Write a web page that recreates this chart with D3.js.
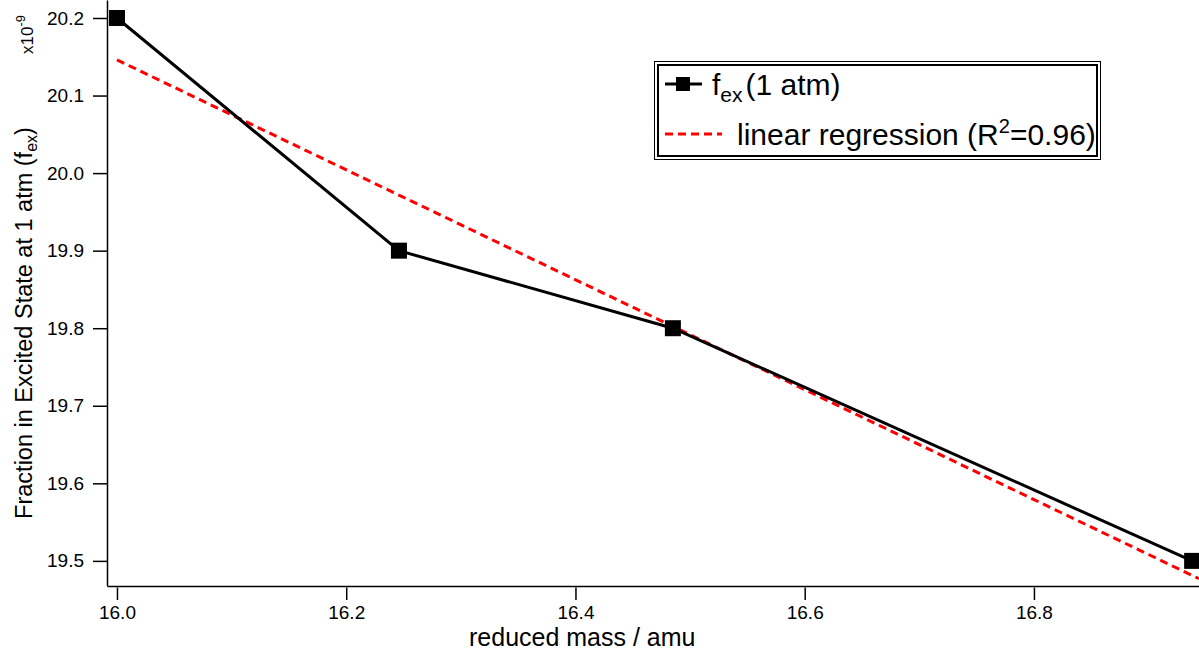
<!DOCTYPE html>
<html lang="en">
<head>
    <meta charset="UTF-8">
    <script src="https://d3js.org/d3.v7.min.js"></script>
    <style>
        body{ margin:0; background:white; }
        svg text{ font-family:"Liberation Sans", Arial, sans-serif; fill:black; }
        .tick text{ font-size:19px; }
    </style>
    <title>Fraction in Excited State</title>
</head>
<body>
    <svg width="1199" height="651"></svg>
    <script>

        // data
        const reducedMass = [16.0, 16.246, 16.485, 16.938];
        const fraction = [20.2, 19.9, 19.8, 19.5];
        const fitX = [16.0, 16.944];
        const fitY = [20.146, 19.477];
        const xTicks = [16.0, 16.2, 16.4, 16.6, 16.8];
        const yTicks = [19.5, 19.6, 19.7, 19.8, 19.9, 20.0, 20.1, 20.2];

        const width = 1199;
        const height = 651;
        const margin = { top:0, right:0, bottom:65, left:107 };

        const svg = d3.select("svg");

        const xScale = d3.scaleLinear()
            .domain([15.9913, 16.944])
            .range([margin.left, width - margin.right]);

        const yScale = d3.scaleLinear()
            .domain([19.468, 20.2232])
            .range([height - margin.bottom - 0.3, margin.top]);

        // y axis
        const yAxis = svg.append("g")
            .attr("transform", `translate(${margin.left},0)`)
            .call(d3.axisLeft(yScale).tickValues(yTicks).tickFormat(d3.format(".1f")).tickSize(14).tickPadding(9).tickSizeOuter(0));
        yAxis.select(".domain").attr("stroke-width", 1.5);
        yAxis.selectAll(".tick line").attr("stroke-width", 1.5);

        // x axis
        const xAxis = svg.append("g")
            .attr("transform", `translate(0,${height - margin.bottom})`)
            .call(d3.axisBottom(xScale).tickValues(xTicks).tickFormat(d3.format(".1f")).tickSize(14).tickPadding(6).tickSizeOuter(0));
        xAxis.select(".domain").attr("stroke-width", 1.5);
        xAxis.selectAll(".tick line").attr("stroke-width", 1.5).attr("y1", 1.5);

        // axis labels
        svg.append("text")
            .attr("x", 469).attr("y", 646)
            .style("font-size", "25px")
            .text("reduced mass / amu");

        const yl = svg.append("text")
            .attr("transform", "translate(32,323) rotate(-90)")
            .attr("text-anchor", "middle")
            .style("font-size", "23.5px");
        yl.append("tspan").text("Fraction in Excited State at 1 atm (f");
        yl.append("tspan").attr("dy", 5).style("font-size", "16px").text("ex");
        yl.append("tspan").attr("dy", -5).text(")");

        const mult = svg.append("text")
            .attr("transform", "translate(33,54) rotate(-90)")
            .style("font-size", "17px");
        mult.append("tspan").text("x10");
        mult.append("tspan").attr("dy", -8).style("font-size", "13px").text("-9");

        // regression line
        svg.append("line")
            .attr("x1", xScale(fitX[0])).attr("y1", yScale(fitY[0]))
            .attr("x2", xScale(fitX[1])).attr("y2", yScale(fitY[1]))
            .attr("stroke", "#ff0000")
            .attr("stroke-width", 3)
            .attr("stroke-dasharray", "8,5");

        // data line
        const pts = reducedMass.map((m, i) => [m, fraction[i]]);
        svg.append("path")
            .datum(pts)
            .attr("fill", "none")
            .attr("stroke", "black")
            .attr("stroke-width", 3)
            .attr("d", d3.line().x(d => xScale(d[0])).y(d => yScale(d[1])));

        svg.selectAll(".mk")
            .data(pts)
            .enter().append("rect")
            .attr("class", "mk")
            .attr("x", d => xScale(d[0]) - 8)
            .attr("y", d => yScale(d[1]) - 8)
            .attr("width", 16).attr("height", 16)
            .attr("fill", "black");

        // legend
        const lg = svg.append("g");
        lg.append("rect").attr("x", 654.5).attr("y", 61.5).attr("width", 446).attr("height", 98)
            .attr("fill", "white").attr("stroke", "black").attr("stroke-width", 1);
        lg.append("rect").attr("x", 658).attr("y", 65).attr("width", 439).attr("height", 91)
            .attr("fill", "none").attr("stroke", "black").attr("stroke-width", 2);

        lg.append("line").attr("x1", 665).attr("x2", 702).attr("y1", 84).attr("y2", 84)
            .attr("stroke", "black").attr("stroke-width", 3);
        lg.append("rect").attr("x", 676).attr("y", 77).attr("width", 14).attr("height", 14).attr("fill", "black");
        const t1 = lg.append("text").attr("x", 712).attr("y", 95).style("font-size", "30px");
        t1.append("tspan").text("f");
        t1.append("tspan").attr("dy", 7).style("font-size", "21px").text("ex");
        t1.append("tspan").attr("dy", -7).attr("dx", 3).text("(1 atm)");

        lg.append("line").attr("x1", 665).attr("x2", 722).attr("y1", 134).attr("y2", 134)
            .attr("stroke", "#ff0000").attr("stroke-width", 3).attr("stroke-dasharray", "8,5");
        const t2 = lg.append("text").attr("x", 737).attr("y", 145).style("font-size", "30px");
        t2.append("tspan").text("linear regression (R");
        t2.append("tspan").attr("dy", -12).style("font-size", "20px").text("2");
        t2.append("tspan").attr("dy", 12).text("=0.96)");

    </script>
</body>
</html>
